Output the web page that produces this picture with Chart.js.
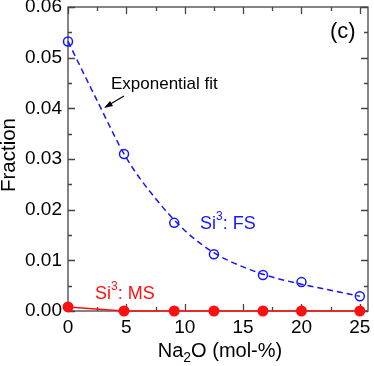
<!DOCTYPE html>
<html>
<head>
<meta charset="utf-8">
<script src="https://cdn.jsdelivr.net/npm/chart.js@4.4.1/dist/chart.umd.min.js"></script>
<style>
  html, body { margin: 0; padding: 0; background: #fff; }
</style>
</head>
<body>
<canvas id="c" width="374" height="366"></canvas>
<script>
// Na2O content (mol-%)
const naO = [0, 4.8, 9.1, 12.5, 16.7, 20, 25];
// Si3 fractions
const fsFrac = [0.0532, 0.031, 0.0174, 0.0112, 0.0071, 0.0057, 0.0029];
const msFrac = [0.0008, 0, 0, 0, 0, 0, 0];
// exponential fit curve
const fitX = [0, 2.5, 5, 7.5, 10, 12.5, 15, 17.5, 20, 22.5, 25];
const fitY = [0.0532, 0.0415, 0.0302, 0.0222, 0.0159, 0.0115, 0.0087, 0.0067, 0.0053, 0.0041, 0.0029];
// ticks
const xTicks = [0, 5, 10, 15, 20, 25];
const yTicks = [0, 0.01, 0.02, 0.03, 0.04, 0.05, 0.06];

const FONT = '"Liberation Sans", Arial, Helvetica, sans-serif';
const BLUE = '#1414ff';
const RED = '#ff1010';

const pts = (xs, ys) => xs.map((x, i) => ({ x: x, y: ys[i] }));

// frame + inward ticks on all four sides
const framePlugin = {
  id: 'frame',
  beforeDatasetsDraw(chart) {
    const { ctx, chartArea: a, scales: { x, y } } = chart;
    ctx.save();
    ctx.strokeStyle = '#444';
    ctx.lineWidth = 1.3;
    ctx.strokeRect(a.left, a.top, a.right - a.left, a.bottom - a.top);
    ctx.beginPath();
    for (let v = 0; v <= 25; v += 2.5) {
      const px = Math.round(x.getPixelForValue(v)) + 0.5;
      const len = v % 5 === 0 ? 7 : 4;
      ctx.moveTo(px, a.bottom); ctx.lineTo(px, a.bottom - len);
      ctx.moveTo(px, a.top); ctx.lineTo(px, a.top + len);
    }
    for (let k = 0; k <= 12; k++) {
      const v = k * 0.005;
      const py = Math.round(y.getPixelForValue(v)) + 0.5;
      const len = k % 2 === 0 ? 7 : 4;
      ctx.moveTo(a.left, py); ctx.lineTo(a.left + len, py);
      ctx.moveTo(a.right, py); ctx.lineTo(a.right - len, py);
    }
    ctx.stroke();
    ctx.restore();
  },
  afterDraw(chart) {
    const { ctx, chartArea: a } = chart;
    ctx.save();
    ctx.textBaseline = 'alphabetic';

    // axis titles
    ctx.fillStyle = '#000';
    const cx = (a.left + a.right) / 2;
    const parts = ['Na', '2', 'O (mol-%)'];
    ctx.font = '20px ' + FONT;
    const w1 = ctx.measureText(parts[0]).width;
    const w3 = ctx.measureText(parts[2]).width;
    ctx.font = '14px ' + FONT;
    const w2 = ctx.measureText(parts[1]).width;
    const sx = cx - (w1 + w2 + w3) / 2 + 2;
    const by = 357;
    ctx.font = '20px ' + FONT;
    ctx.fillText(parts[0], sx, by);
    ctx.font = '14px ' + FONT;
    ctx.fillText(parts[1], sx + w1, by + 5);
    ctx.font = '20px ' + FONT;
    ctx.fillText(parts[2], sx + w1 + w2, by);

    ctx.save();
    ctx.translate(15, 155);
    ctx.rotate(-Math.PI / 2);
    ctx.textAlign = 'center';
    ctx.font = '20.5px ' + FONT;
    ctx.fillText('Fraction', 0, 0);
    ctx.restore();

    // panel label
    ctx.font = '22px ' + FONT;
    ctx.fillText('(c)', 330, 38);

    // fit annotation + arrow
    ctx.font = '17px ' + FONT;
    ctx.fillText('Exponential fit', 111, 89);
    ctx.strokeStyle = '#000';
    ctx.lineWidth = 1.2;
    ctx.beginPath();
    ctx.moveTo(124, 96);
    ctx.lineTo(107, 106);
    ctx.stroke();
    ctx.beginPath();
    ctx.moveTo(104, 108);
    ctx.lineTo(110, 101);
    ctx.lineTo(113, 106);
    ctx.closePath();
    ctx.fillStyle = '#000';
    ctx.fill();

    // series labels
    const label = (txt, x0, y0, col) => {
      ctx.fillStyle = col;
      ctx.font = '18px ' + FONT;
      ctx.fillText('Si', x0, y0);
      const w = ctx.measureText('Si').width;
      ctx.font = '12px ' + FONT;
      ctx.fillText('3', x0 + w, y0 - 9);
      const w2b = ctx.measureText('3').width;
      ctx.font = '18px ' + FONT;
      ctx.fillText(txt, x0 + w + w2b, y0);
    };
    label(': FS', 200, 229, BLUE);
    label(': MS', 95, 299, RED);
    ctx.restore();
  }
};

new Chart(document.getElementById('c'), {
  type: 'scatter',
  data: {
    datasets: [
      {
        label: 'fit',
        data: pts(fitX, fitY),
        showLine: true,
        borderColor: BLUE,
        borderWidth: 1.5,
        borderDash: [6, 4],
        cubicInterpolationMode: 'monotone',
        pointRadius: 0,
        clip: false
      },
      {
        label: 'FS',
        data: pts(naO, fsFrac),
        showLine: false,
        pointStyle: 'circle',
        pointRadius: 4.5,
        pointBorderWidth: 1.5,
        pointBorderColor: BLUE,
        pointBackgroundColor: 'rgba(255,255,255,0)',
        clip: false
      },
      {
        label: 'MS',
        data: pts(naO, msFrac),
        showLine: true,
        borderColor: RED,
        borderWidth: 1.5,
        pointRadius: 5.5,
        pointBorderWidth: 0,
        pointBackgroundColor: RED,
        clip: false
      }
    ]
  },
  options: {
    responsive: false,
    animation: false,
    layout: { padding: { top: 7, right: 6, left: 0, bottom: 0 } },
    plugins: { legend: { display: false }, tooltip: { enabled: false } },
    scales: {
      x: {
        type: 'linear',
        min: 0,
        max: 25.7,
        grid: { display: false, drawTicks: false },
        border: { display: false },
        afterBuildTicks: s => { s.ticks = xTicks.map(v => ({ value: v })); },
        afterFit: s => { s.height = 55; s.paddingLeft = 0; s.paddingRight = 0; },
        ticks: {
          color: '#000',
          padding: 5,
          font: { family: FONT, size: 19 },
          callback: v => String(v)
        }
      },
      y: {
        type: 'linear',
        min: 0,
        max: 0.06,
        grid: { display: false, drawTicks: false },
        border: { display: false },
        afterBuildTicks: s => { s.ticks = yTicks.map(v => ({ value: v })); },
        afterFit: s => { s.width = 68; s.paddingTop = 0; s.paddingBottom = 0; },
        ticks: {
          color: '#000',
          padding: 6,
          font: { family: FONT, size: 19 },
          callback: v => v.toFixed(2)
        }
      }
    }
  },
  plugins: [framePlugin]
});
</script>
</body>
</html>
